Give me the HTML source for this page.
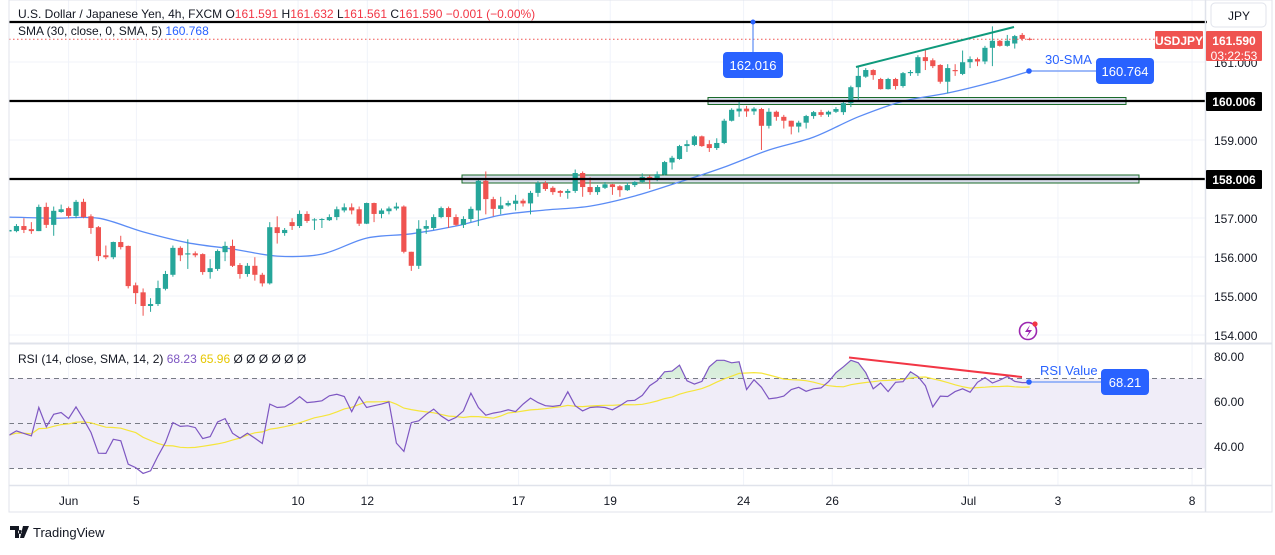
<!DOCTYPE html>
<html><head><meta charset="utf-8"><style>
body{margin:0;background:#fff;font-family:"Liberation Sans",sans-serif;}
svg text{font-family:"Liberation Sans",sans-serif;}
</style></head><body>
<svg id="c" width="1275" height="550" viewBox="0 0 1275 550" xmlns="http://www.w3.org/2000/svg">
<defs>
<clipPath id="pc"><rect x="9" y="0" width="1196" height="343"/></clipPath>
<clipPath id="rc"><rect x="9" y="344" width="1196" height="141"/></clipPath>
<clipPath id="above70"><rect x="9" y="344" width="1196" height="34.5"/></clipPath>
<linearGradient id="gf" x1="0" y1="0" x2="0" y2="1"><stop offset="0" stop-color="#d4ecd8"/><stop offset="1" stop-color="#eef7ef" stop-opacity="0.5"/></linearGradient>
</defs>
<g id="grid"></g>
<rect x="9" y="378.5" width="1196" height="90" fill="#f0edf8"/>
<g id="price" clip-path="url(#pc)"></g>
<g id="rsi" clip-path="url(#rc)"></g>
<g id="annot"></g>
<g id="axes"></g>
</svg>
<script>
const NS="http://www.w3.org/2000/svg";
const opens=[156.66,156.67,156.80,156.72,156.67,157.29,156.83,157.16,157.26,157.06,157.42,157.05,156.77,156.05,156.00,156.39,156.29,155.28,155.10,154.75,154.80,155.19,155.55,156.24,156.07,156.10,156.08,155.62,155.70,156.13,156.29,155.80,155.57,155.78,155.55,155.33,156.77,156.62,156.90,156.80,157.11,156.95,156.96,156.95,157.03,157.20,157.28,157.23,156.86,157.39,157.11,157.18,157.25,157.30,156.14,155.78,156.73,156.75,157.03,157.26,157.03,156.83,156.98,157.20,157.96,157.49,157.24,157.33,157.37,157.45,157.38,157.65,157.90,157.78,157.70,157.65,157.70,158.16,157.80,157.67,157.78,157.87,157.82,157.72,157.85,157.93,158.06,158.00,158.12,158.43,158.52,158.85,158.88,159.10,158.90,158.80,158.93,159.50,159.74,159.81,159.74,159.80,159.37,159.73,159.60,159.50,159.35,159.45,159.62,159.72,159.66,159.73,159.72,159.95,160.36,160.63,160.80,160.57,160.31,160.57,160.39,160.72,160.72,161.13,161.05,160.93,160.50,160.80,160.70,161.00,161.08,161.02,161.37,161.55,161.42,161.48,161.70,161.60];
const closes=[156.70,156.80,156.70,156.67,157.29,156.83,157.19,157.23,157.06,157.42,157.03,156.75,156.03,156.00,156.39,156.26,155.26,155.08,154.75,154.80,155.21,155.57,156.24,156.05,156.10,156.05,155.62,155.72,156.16,156.29,155.78,155.57,155.78,155.55,155.33,156.77,156.62,156.70,156.80,157.11,156.93,156.97,156.98,157.03,157.23,157.28,157.20,156.86,157.39,157.11,157.20,157.25,157.30,156.14,155.78,156.73,156.80,157.03,157.26,157.03,156.83,156.98,157.24,157.96,157.49,157.24,157.33,157.39,157.45,157.38,157.65,157.90,157.75,157.67,157.65,157.70,158.16,157.80,157.67,157.80,157.87,157.80,157.72,157.85,157.93,158.06,158.00,158.13,158.44,158.55,158.85,158.90,159.10,158.85,158.80,158.93,159.50,159.78,159.81,159.74,159.81,159.37,159.73,159.60,159.50,159.35,159.45,159.62,159.72,159.65,159.73,159.80,159.95,160.36,160.65,160.80,160.67,160.31,160.57,160.39,160.72,160.75,161.13,161.03,160.90,160.50,160.85,160.77,161.00,161.08,161.02,161.37,161.55,161.42,161.55,161.67,161.60,161.59];
const highs=[156.75,156.85,157.00,156.90,157.35,157.40,157.30,157.35,157.30,157.47,157.50,157.10,156.80,156.30,156.40,156.55,156.30,155.35,155.20,154.95,155.40,155.65,156.30,156.28,156.46,156.15,156.10,155.95,156.20,156.40,156.45,155.85,155.85,156.00,155.60,156.90,157.05,156.75,157.00,157.20,157.18,157.00,157.00,157.10,157.30,157.38,157.38,157.30,157.40,157.40,157.25,157.30,157.40,157.33,156.14,156.95,156.95,157.10,157.30,157.30,157.10,157.05,157.30,158.00,158.20,157.55,157.55,157.45,157.60,157.50,157.70,157.95,157.95,157.82,157.72,157.75,158.25,158.20,158.05,157.85,157.93,157.88,157.85,157.92,157.95,158.15,158.10,158.20,158.47,158.60,158.88,159.00,159.13,159.12,159.00,159.05,159.55,159.82,159.98,159.88,159.85,159.83,159.82,159.76,159.65,159.50,159.50,159.65,159.75,159.78,159.76,159.85,160.00,160.40,160.90,160.85,160.82,160.60,160.60,160.60,160.75,160.80,161.18,161.34,161.10,160.95,160.95,160.95,161.30,161.15,161.12,161.42,161.92,161.57,161.70,161.70,161.75,161.63];
const lows=[156.60,156.64,156.62,156.60,156.67,156.75,156.55,157.14,157.00,157.00,157.00,156.60,155.90,155.95,155.95,156.20,155.20,154.80,154.50,154.60,154.75,155.15,155.50,155.90,155.70,156.00,155.55,155.45,155.65,155.90,155.75,155.45,155.50,155.40,155.25,155.30,156.35,156.55,156.70,156.75,156.88,156.70,156.75,156.93,156.95,157.15,157.10,156.80,156.85,156.90,157.00,157.10,157.20,156.10,155.65,155.70,156.60,156.70,157.00,156.75,156.80,156.75,156.90,156.80,157.10,157.05,157.10,157.30,157.20,157.30,157.10,157.55,157.70,157.60,157.55,157.50,157.65,157.55,157.60,157.60,157.75,157.60,157.55,157.70,157.80,157.90,157.75,157.95,158.10,158.25,158.50,158.70,158.85,158.83,158.70,158.75,158.90,159.48,159.60,159.60,159.65,158.75,159.30,159.50,159.30,159.15,159.20,159.30,159.55,159.60,159.60,159.70,159.65,159.85,159.98,160.60,160.55,160.30,160.30,160.30,160.35,160.65,160.65,160.80,160.85,160.45,160.20,160.65,160.67,160.85,160.90,160.95,160.90,161.40,161.40,161.35,161.55,161.56];
const smaIdx=[0,6,12,18,24,30,36,42,48,54,60,66,72,78,84,90,96,102,108,114,120,126,132,137];
const smaVal=[157.03,157.00,157.00,156.65,156.37,156.21,156.03,156.08,156.49,156.60,156.80,157.08,157.21,157.31,157.57,157.93,158.31,158.75,159.08,159.60,160.00,160.21,160.49,160.77];
const rsiVals=[44.8,46.7,45.6,44.5,57.1,48.5,54.1,54.9,52.2,57.4,51.9,46.0,36.8,36.7,43.0,42.3,31.9,30.4,27.8,29.0,35.6,41.6,50.4,48.7,49.0,48.2,43.3,44.2,50.7,52.2,45.7,43.5,45.7,43.5,41.1,58.6,57.1,57.4,59.3,61.9,59.3,59.6,60.1,62.3,63.0,62.0,55.3,61.9,57.1,57.9,58.6,59.6,41.3,37.6,50.4,51.2,54.1,56.4,53.4,51.2,52.7,55.6,63.5,57.1,53.7,54.6,55.2,56.1,55.3,58.6,61.3,59.3,57.9,57.6,58.1,64.1,57.9,55.6,57.1,57.4,57.1,56.1,57.9,60.1,60.3,62.5,66.8,69.0,73.0,73.3,75.9,69.0,67.5,68.7,75.2,78.1,78.1,77.0,77.4,65.1,69.4,66.1,61.0,61.4,62.2,65.1,66.1,64.3,65.4,65.8,68.6,72.6,75.2,78.1,77.0,72.6,65.4,68.0,64.2,68.3,68.6,73.0,70.9,66.8,57.4,62.2,62.0,64.2,65.4,63.9,68.3,70.4,68.0,69.3,70.9,68.7,68.2,68.21];
const priceTicks=[161.000,159.000,157.000,156.000,155.000,154.000];
const rsiTicks=[80,60,40];
const dateLabels=["Jun","5","10","12","17","19","24","26","Jul","3","8"];
const dateIdx=[8,17.1,38.8,48.1,68.4,80.7,98.6,110.5,128.8,140.8,158.8];

const X=i=>9+i*7.45;
const PY=p=>101-(p-160.006)*39;
const RY=v=>356+(80-v)*2.25;
function el(tag,attrs,parent,text){const e=document.createElementNS(NS,tag);for(const k in attrs)e.setAttribute(k,attrs[k]);if(text!==undefined)e.textContent=text;parent.appendChild(e);return e;}
const grid=document.getElementById('grid'),price=document.getElementById('price'),rsi=document.getElementById('rsi'),annot=document.getElementById('annot'),axes=document.getElementById('axes');

[22,62,140,218,257,296,335].forEach(y=>{const l=el('line',{x1:9,x2:1205,y1:y,y2:y,stroke:'#f0f3fa'},grid);});
[401,446].forEach(y=>{const l=el('line',{x1:9,x2:1205,y1:y,y2:y,stroke:'#e6e3ef'},grid);});
dateIdx.forEach(d=>{const l=el('line',{x1:X(d),x2:X(d),y1:0,y2:485,stroke:'#f0f3fa'},grid);});

function box(x1,x2,y1,y2,name){const r=el('rect',{x:x1,y:y1,width:x2-x1,height:y2-y1,fill:'#d9deec',stroke:'#1b6b2a','stroke-width':1},price);}
box(462,1139,175,183,'support-zone-158');
box(708,1126,97.5,104.5,'support-zone-160');

// SMA smoothed (catmull-rom)
const pts=smaIdx.map((i,k)=>[X(i),PY(smaVal[k])]);
let d='M'+pts[0][0].toFixed(1)+' '+pts[0][1].toFixed(1);
for(let k=0;k<pts.length-1;k++){const p0=pts[Math.max(0,k-1)],p1=pts[k],p2=pts[k+1],p3=pts[Math.min(pts.length-1,k+2)];
 const c1=[p1[0]+(p2[0]-p0[0])/6,p1[1]+(p2[1]-p0[1])/6],c2=[p2[0]-(p3[0]-p1[0])/6,p2[1]-(p3[1]-p1[1])/6];
 d+='C'+c1[0].toFixed(1)+' '+c1[1].toFixed(1)+' '+c2[0].toFixed(1)+' '+c2[1].toFixed(1)+' '+p2[0].toFixed(1)+' '+p2[1].toFixed(1);}
const sm=el('path',{d:d,fill:'none',stroke:'#5b8cf5','stroke-width':1.3},price);

for(let i=0;i<opens.length;i++){
 const up=closes[i]>=opens[i],col=up?'#26a69a':'#ef5350',x=X(i);
 const g=el('g',{},price);
 el('line',{x1:x,x2:x,y1:PY(highs[i]),y2:PY(lows[i]),stroke:col,'stroke-width':1},g);
 const t=PY(Math.max(opens[i],closes[i])),b=PY(Math.min(opens[i],closes[i]));
 el('rect',{x:x-2.6,y:t,width:5.2,height:Math.max(1,b-t),fill:col},g);
}
[[22,'level-162'],[101,'level-160'],[179,'level-158']].forEach(a=>{const l=el('line',{x1:9,x2:1207,y1:a[0],y2:a[0],stroke:'#000','stroke-width':2.2},annot);});
const cl=el('line',{x1:9,x2:1155,y1:PY(closes[closes.length-1]),y2:PY(closes[closes.length-1]),stroke:'#ef5350','stroke-dasharray':'1.5 2.5'},annot);
const tl=el('line',{x1:856,y1:67,x2:1014,y2:27,stroke:'#0f9a7c','stroke-width':2},annot);

let rp='';rsiVals.forEach((v,i)=>{rp+=(i?'L':'M')+X(i).toFixed(1)+' '+RY(v).toFixed(1);});
const area=el('path',{d:rp+'L'+X(rsiVals.length-1)+' '+RY(70)+'L'+X(0)+' '+RY(70)+'Z',fill:'url(#gf)','clip-path':'url(#above70)'},rsi);
[70,50,30].forEach(v=>{const l=el('line',{x1:9,x2:1205,y1:RY(v),y2:RY(v),stroke:'#787b86','stroke-dasharray':'5 4'},rsi);});
let sp='';rsiVals.forEach((v,i)=>{const s=rsiVals.slice(Math.max(0,i-13),i+1);const a=s.reduce((p,q)=>p+q,0)/s.length;sp+=(i?'L':'M')+X(i).toFixed(1)+' '+RY(a).toFixed(1);});
const ys=el('path',{d:sp,fill:'none',stroke:'#f5e53b','stroke-width':1.2},rsi);
const rl=el('path',{d:rp,fill:'none',stroke:'#7e57c2','stroke-width':1.2},rsi);
const rt=el('line',{x1:849,y1:357.5,x2:1022,y2:377,stroke:'#f23645','stroke-width':2},rsi);

function callout(x,y,w,txt,name){const g=el('g',{},annot);el('rect',{x:x,y:y,width:w,height:26,rx:4,fill:'#2962ff'},g);el('text',{x:x+w/2,y:y+18,'text-anchor':'middle',fill:'#fff','font-size':13},g,txt);}
el('line',{x1:753,y1:22,x2:753,y2:52,stroke:'#5b8cf5','stroke-width':1.2},annot);
el('circle',{cx:753,cy:22,r:2.5,fill:'#2962ff'},annot);
callout(723,52,60,'162.016','high-callout');
el('line',{x1:1029,y1:71,x2:1097,y2:71,stroke:'#7fa3f7','stroke-width':1.5},annot);
el('circle',{cx:1029,cy:71,r:2.8,fill:'#2962ff'},annot);
const t1=el('text',{x:1045,y:64,fill:'#2962ff','font-size':13},annot,'30-SMA');
callout(1096,58,58,'160.764','sma-value-callout');
el('line',{x1:1029,y1:382,x2:1102,y2:382,stroke:'#7fa3f7','stroke-width':1.5},annot);
el('circle',{cx:1029,cy:382,r:2.8,fill:'#2962ff'},annot);
const t2=el('text',{x:1040,y:375,fill:'#2962ff','font-size':13},annot,'RSI Value');
callout(1101,369,48,'68.21','rsi-value-callout');
const li=el('g',{},annot);
el('circle',{cx:1028,cy:331,r:8.5,fill:'none',stroke:'#9c27b0','stroke-width':1.6},li);
el('path',{d:'M1030 325 L1025 332 L1029 332 L1026 338 L1032 330 L1028 330 Z',fill:'#9c27b0'},li);
el('circle',{cx:1035,cy:324,r:2.6,fill:'#f23645'},li);

el('rect',{x:9,y:0,width:1263,height:512,fill:'none',stroke:'#e0e3eb'},axes);
el('line',{x1:9,x2:1272,y1:343.5,y2:343.5,stroke:'#e0e3eb','stroke-width':2},axes);
el('line',{x1:9,x2:1272,y1:485.5,y2:485.5,stroke:'#e0e3eb','stroke-width':1.5},axes);
el('line',{x1:1205.5,x2:1205.5,y1:0,y2:512,stroke:'#e0e3eb','stroke-width':1.5},axes);
priceTicks.forEach(p=>{const t=el('text',{x:1214,y:PY(p)+5,fill:'#131722','font-size':12},axes,p.toFixed(3));});
rsiTicks.forEach(v=>{const t=el('text',{x:1214,y:RY(v)+5,fill:'#131722','font-size':12},axes,v.toFixed(2));});
dateLabels.forEach((s,k)=>{const t=el('text',{x:X(dateIdx[k]),y:505,'text-anchor':'middle',fill:'#131722','font-size':12},axes,s);});
function tag(x,y,w,h,fill,lines,name){const g=el('g',{},axes);el('rect',{x:x,y:y,width:w,height:h,fill:fill,rx:1},g);lines.forEach((s,k)=>el('text',{x:x+w/2,y:y+14+k*15,'text-anchor':'middle',fill:'#fff','font-size':12,'font-weight':k?'normal':'bold'},g,s));}
tag(1206,92,56,19,'#000',['160.006'],'level-160-tag');
tag(1206,170,56,19,'#000',['158.006'],'level-158-tag');
tag(1155,31,48,18,'#ef5350',['USDJPY'],'symbol-tag');
tag(1206,31,56,30,'#ef5350',['161.590','03:22:53'],'last-price-tag');
const jb=el('g',{},axes);
el('rect',{x:1211,y:3,width:55,height:24,rx:4,fill:'#fff',stroke:'#e0e3eb'},jb);el('text',{x:1228,y:20,fill:'#131722','font-size':12},jb,'JPY');
const h=el('text',{x:18,y:18,'font-size':12,fill:'#131722'},axes);
h.innerHTML='U.S. Dollar / Japanese Yen, 4h, FXCM <tspan fill="#131722">O</tspan><tspan fill="#f23645">161.591</tspan> <tspan>H</tspan><tspan fill="#f23645">161.632</tspan> <tspan>L</tspan><tspan fill="#f23645">161.561</tspan> <tspan>C</tspan><tspan fill="#f23645">161.590</tspan> <tspan fill="#f23645">−0.001 (−0.00%)</tspan>';
const h2=el('text',{x:18,y:35,'font-size':12,fill:'#131722'},axes);
h2.innerHTML='SMA (30, close, 0, SMA, 5) <tspan fill="#2962ff">160.768</tspan>';
const h3=el('text',{x:18,y:363,'font-size':12,fill:'#131722'},axes);
h3.innerHTML='RSI (14, close, SMA, 14, 2) <tspan fill="#7e57c2">68.23</tspan> <tspan fill="#e6c700">65.96</tspan>  Ø  Ø  Ø  Ø  Ø  Ø';
const lg=el('g',{},axes);
el('path',{d:'M10 526 H19 V538 H15 V530 H10 Z M20 530 a2 2 0 1 0 0.1 0 M23 526 H29 L24 538 H20 Z',fill:'#131722'},lg);
el('text',{x:33,y:537,'font-size':13,fill:'#131722'},lg,'TradingView');
</script>
</body></html>
